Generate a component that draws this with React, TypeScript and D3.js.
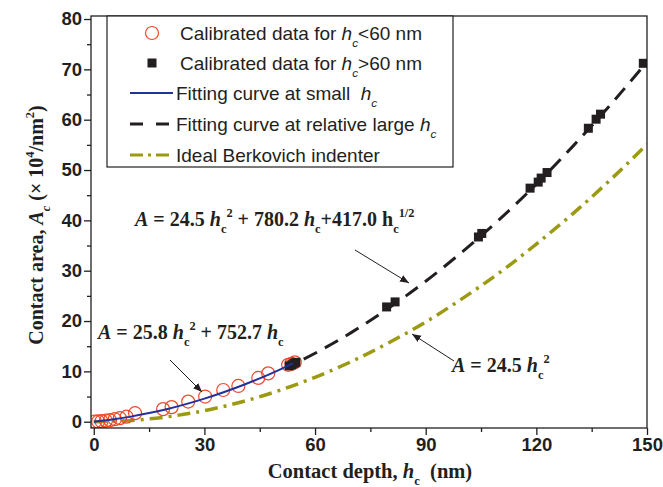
import { useEffect, useRef } from "react";
import * as d3 from "d3";

// calibrated data, h_c < 60 nm (open circles)
const smallH = [0.3, 1.2, 2.1, 3.3, 4.4, 5.7, 7.1, 8.9, 11.2, 18.8, 21.1, 25.6, 30.2, 35.1, 39.2, 44.6, 47.3, 52.7, 53.6, 54.5];
const smallA = [0.0, 0.05, 0.1, 0.2, 0.3, 0.5, 0.7, 1.0, 1.7, 2.5, 2.9, 4.0, 5.0, 6.3, 7.1, 8.7, 9.6, 11.3, 11.5, 11.8];

// calibrated data, h_c > 60 nm (filled squares)
const largeH = [53.0, 53.7, 54.3, 54.8, 79.4, 81.7, 104.3, 105.2, 118.3, 120.5, 121.3, 122.9, 134.1, 136.2, 137.4, 149.0];
const largeA = [11.1, 11.3, 11.6, 11.8, 22.8, 23.8, 36.7, 37.4, 46.4, 47.6, 48.4, 49.5, 58.3, 60.1, 61.1, 71.2];

// fitted curves
const fitSmallH = [0, 5, 10, 15, 20, 25, 30, 35, 40, 45, 50, 54];
const fitSmallA = [0, 0.44, 1.01, 1.71, 2.54, 3.49, 4.58, 5.8, 7.14, 8.61, 10.21, 11.59];
const fitLargeH = [55, 60, 70, 80, 90, 100, 110, 120, 130, 140, 150];
const fitLargeA = [11.7, 13.6, 17.8, 22.6, 27.9, 33.8, 40.2, 47.2, 54.8, 62.9, 71.5];
const berkH = [0, 10, 20, 30, 40, 50, 60, 70, 80, 90, 100, 110, 120, 130, 140, 150];
const berkA = [0, 0.25, 0.98, 2.2, 3.92, 6.13, 8.82, 12.0, 15.7, 19.8, 24.5, 29.6, 35.3, 41.4, 48.0, 55.1];

const xMajor = [0, 30, 60, 90, 120, 150];
const xMinor = [15, 45, 75, 105, 135];
const yMajor = [0, 10, 20, 30, 40, 50, 60, 70, 80];
const yMinor = [5, 15, 25, 35, 45, 55, 65, 75];

const RED = "#ee4a2a";
const BLUE = "#22319c";
const OLIVE = "#9c9a12";
const DARK = "#231f20";

const L = 91, R = 647, T = 16, B = 428;
const x = d3.scaleLinear([-0.75, 150], [L, R]);
const y = d3.scaleLinear([-1.25, 80.6], [B, T]);

type Seg = { t: string; i?: boolean; sub?: boolean; sup?: boolean };

// text with sub/superscripts via dy
const Rich = ({ segs, px, py, size, family, weight = "bold", anchor = "start", transform }: any) => {
  let cur = 0;
  return (
    <text x={px} y={py} fontSize={size} fontFamily={family} fontWeight={weight} textAnchor={anchor}
      transform={transform} fill={DARK} style={{ whiteSpace: "pre" }}>
      {segs.map((s: Seg, k: number) => {
        const target = s.sub ? size * 0.35 : s.sup ? -size * 0.45 : 0;
        const dy = target - cur;
        cur = target;
        return (
          <tspan key={k} dy={dy} fontStyle={s.i ? "italic" : "normal"} fontSize={s.sub || s.sup ? size * 0.62 : size}>
            {s.t}
          </tspan>
        );
      })}
    </text>
  );
};

const serif = "'Liberation Serif', 'Times New Roman', serif";
const sans = "'Liberation Sans', Arial, sans-serif";

const line = d3.line<[number, number]>().x((d) => x(d[0])).y((d) => y(d[1])).curve(d3.curveMonotoneX);

const App = () => {
  const gx = useRef<SVGGElement | null>(null);
  const gy = useRef<SVGGElement | null>(null);

  useEffect(() => {
    if (!gx.current || !gy.current) return;
    const sx = d3.select(gx.current);
    sx.selectAll("*").remove();
    sx.append("g").call(d3.axisBottom(x).tickValues(xMinor).tickSize(4).tickFormat(() => ""));
    sx.append("g").call(d3.axisBottom(x).tickValues(xMajor).tickSize(7).tickPadding(3).tickFormat(d3.format("d")));
    const sy = d3.select(gy.current);
    sy.selectAll("*").remove();
    sy.append("g").call(d3.axisLeft(y).tickValues(yMinor).tickSize(4).tickFormat(() => ""));
    sy.append("g").call(d3.axisLeft(y).tickValues(yMajor).tickSize(7).tickPadding(2).tickFormat(d3.format("d")));
    for (const s of [sx, sy]) {
      s.selectAll(".domain").remove();
      s.selectAll("line").attr("stroke", DARK).attr("stroke-width", 1.3);
      s.selectAll("text").attr("font-family", sans).attr("font-weight", "bold").attr("font-size", 18.5).attr("fill", DARK);
    }
  }, []);

  const smallFit = fitSmallH.map((h, i) => [h, fitSmallA[i]] as [number, number]);
  const largeFit = fitLargeH.map((h, i) => [h, fitLargeA[i]] as [number, number]);
  const berk = berkH.map((h, i) => [h, berkA[i]] as [number, number]);

  const legendY = [33, 63, 93, 124, 155];
  const lx = 180;
  const lf = 19;

  return (
    <svg width={663} height={487} style={{ position: "absolute", left: 0, top: 0, background: "#fff" }}>
      <defs>
        <clipPath id="plot">
          <rect x={L} y={T} width={R - L} height={B - T} />
        </clipPath>
        <marker id="arr" viewBox="0 0 10 10" refX={10} refY={5} markerWidth={9} markerHeight={9} orient="auto" markerUnits="userSpaceOnUse">
          <path d="M0,1 L10,5 L0,9 z" fill={DARK} />
        </marker>
      </defs>

      <g clipPath="url(#plot)">
        <path d={line(berk) ?? ""} fill="none" stroke={OLIVE} strokeWidth={3.5} strokeDasharray="13 6 3 6" />
        <path d={line(largeFit) ?? ""} fill="none" stroke={DARK} strokeWidth={3} strokeDasharray="15 9" strokeDashoffset={-8} />
        {smallH.map((h, i) => (
          <circle key={i} cx={x(h)} cy={y(smallA[i])} r={6.5} fill="none" stroke={RED} strokeWidth={1.2} />
        ))}
        {largeH.map((h, i) => (
          <rect key={i} x={x(h) - 4.5} y={y(largeA[i]) - 4.5} width={9} height={9} fill={DARK} />
        ))}
        <path d={line(smallFit) ?? ""} fill="none" stroke={BLUE} strokeWidth={2} />
      </g>

      <rect x={L} y={T} width={R - L} height={B - T} fill="none" stroke={DARK} strokeWidth={1.3} />
      <g ref={gx} transform={`translate(0,${B})`} />
      <g ref={gy} transform={`translate(${L},0)`} />

      {/* legend */}
      <rect x={107} y={16} width={346} height={151} fill="#fff" stroke={DARK} strokeWidth={1.2} />
      <circle cx={152} cy={legendY[0]} r={6.5} fill="none" stroke={RED} strokeWidth={1.2} />
      <rect x={147.5} y={legendY[1] - 4.5} width={9} height={9} fill={DARK} />
      <line x1={130} x2={173} y1={legendY[2]} y2={legendY[2]} stroke={BLUE} strokeWidth={2} />
      <line x1={130} x2={173} y1={legendY[3]} y2={legendY[3]} stroke={DARK} strokeWidth={3} strokeDasharray="13 13" />
      <line x1={130} x2={173} y1={legendY[4]} y2={legendY[4]} stroke={OLIVE} strokeWidth={3} strokeDasharray="13 5 3 5" />
      <Rich px={lx} py={legendY[0] + 7} size={lf} family={sans} weight="normal"
        segs={[{ t: "Calibrated data for " }, { t: "h", i: true }, { t: "c", i: true, sub: true }, { t: "<60 nm" }]} />
      <Rich px={lx} py={legendY[1] + 7} size={lf} family={sans} weight="normal"
        segs={[{ t: "Calibrated data for " }, { t: "h", i: true }, { t: "c", i: true, sub: true }, { t: ">60 nm" }]} />
      <Rich px={lx - 4} py={legendY[2] + 7} size={lf} family={sans} weight="normal"
        segs={[{ t: "Fitting curve at small  " }, { t: "h", i: true }, { t: "c", i: true, sub: true }]} />
      <Rich px={lx - 4} py={legendY[3] + 7} size={lf} family={sans} weight="normal"
        segs={[{ t: "Fitting curve at relative large " }, { t: "h", i: true }, { t: "c", i: true, sub: true }]} />
      <Rich px={lx - 4} py={legendY[4] + 7} size={lf} family={sans} weight="normal"
        segs={[{ t: "Ideal Berkovich indenter" }]} />

      {/* annotations */}
      <Rich px={135} py={226} size={20} family={serif}
        segs={[{ t: "A", i: true }, { t: " = 24.5 " }, { t: "h", i: true }, { t: "c", sub: true }, { t: "2", sup: true },
          { t: " + 780.2 " }, { t: "h", i: true }, { t: "c", sub: true }, { t: "+417.0 h" }, { t: "c", sub: true }, { t: "1/2", sup: true }]} />
      <line x1={355} y1={250} x2={409} y2={283} stroke={DARK} strokeWidth={1} markerEnd="url(#arr)" />

      <Rich px={98} py={339} size={20} family={serif}
        segs={[{ t: "A", i: true }, { t: " = 25.8 " }, { t: "h", i: true }, { t: "c", sub: true }, { t: "2", sup: true },
          { t: " + 752.7 " }, { t: "h", i: true }, { t: "c", sub: true }]} />
      <line x1={170} y1={360} x2={202} y2={392} stroke={DARK} strokeWidth={1} markerEnd="url(#arr)" />

      <Rich px={452} py={372} size={20} family={serif}
        segs={[{ t: "A", i: true }, { t: " = 24.5 " }, { t: "h", i: true }, { t: "c", sub: true }, { t: "2", sup: true }]} />
      <line x1={454} y1={361} x2={412} y2={334} stroke={DARK} strokeWidth={1} markerEnd="url(#arr)" />

      {/* axis titles */}
      <Rich px={370} py={478} size={20.5} family={serif} anchor="middle"
        segs={[{ t: "Contact depth, " }, { t: "h", i: true }, { t: "c", sub: true }, { t: "  (nm)" }]} />
      <Rich px={0} py={0} size={20} family={serif} anchor="middle" transform={`translate(43,225) rotate(-90)`}
        segs={[{ t: "Contact area, " }, { t: "A", i: true }, { t: "c", i: true, sub: true }, { t: " (× 10" }, { t: "4", sup: true },
          { t: "/nm" }, { t: "2", sup: true }, { t: ")" }]} />
    </svg>
  );
};

export default App;
